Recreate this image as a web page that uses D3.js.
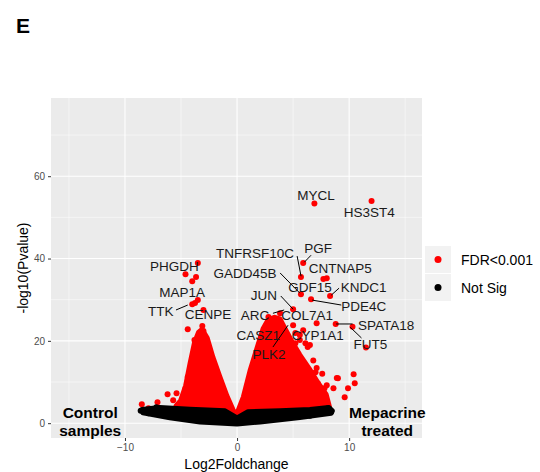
<!DOCTYPE html>
<html>
<head>
<meta charset="utf-8">
<script src="https://cdn.jsdelivr.net/npm/d3@7"></script>
<style>
  body { margin: 0; background: #fff; }
  text { font-family: "Liberation Sans", Arial, sans-serif; }
</style>
</head>
<body>
<div id="chart"></div>
<script>
// tick values
const xTicks = [-10, 0, 10];
const yTicks = [0, 20, 40, 60];

// dense cores of the significant points (outline)
const leftCore = [[-3.13, 22.6], [-2.7, 20.6], [-2.2, 16.0], [-1.6, 11.4], [-0.95, 6.6], [-0.4, 3.2],
  [-0.1, 1.8], [-1.5, 2.2], [-5.4, 4.2], [-5.0, 5.4], [-4.55, 9.0], [-4.15, 14.5], [-3.75, 19.6], [-3.4, 22.0]];
const rightCore = [[0.05, 2.4], [0.6, 6.3], [1.2, 12.7], [1.82, 18.2], [2.35, 22.8], [2.8, 25.0], [3.35, 25.6],
  [3.8, 25.2], [4.15, 23.4], [4.85, 19.8], [5.55, 16.6], [6.4, 13.2], [7.1, 10.1], [7.9, 7.0], [8.2, 3.9], [4, 3]];

// not significant band
const nsBand = [[-8.5, 3.3], [-6.9, 3.8], [-4.2, 3.4], [-1.07, 3.0], [0, 1.3], [0.98, 2.8], [3.84, 3.0],
  [6.5, 3.3], [8.2, 3.8], [8.5, 3.0], [8.4, 2.4], [5.6, 1.4], [2.05, 0.3], [0, -0.2], [-3.3, 0.3], [-6.0, 1.3], [-8.4, 2.5]];
const nsPoints = [[-8.6, 3.0], [-7.9, 2.4], [6.5, 1.8], [8.1, 3.6], [8.4, 2.8], [-7.2, 3.9]];

// significant points outside the cores
const sigPoints = [
  [6.9, 53.4], [12.0, 54.0], [5.9, 38.9], [5.7, 35.5], [7.7, 35.0], [8.0, 35.2], [5.7, 31.3], [8.3, 30.9],
  [6.6, 30.1], [5.0, 27.7], [2.8, 25.8], [3.84, 26.7], [7.1, 24.3], [8.8, 24.1], [10.3, 23.4], [11.5, 18.4],
  [5.0, 23.8], [5.9, 22.6], [5.6, 20.2], [6.5, 19.0], [5.2, 21.9], [5.6, 21.4], [6.1, 19.4], [6.3, 18.5],
  [5.2, 19.4], [7.1, 13.4], [7.0, 12.4], [8.0, 9.2], [9.0, 10.9], [8.9, 11.0], [10.4, 11.9], [10.5, 9.7],
  [9.6, 6.3], [9.9, 8.5], [8.6, 8.5], [7.8, 8.5], [7.2, 9.7], [8.0, 4.9], [6.8, 15.2], [7.6, 12.0],
  [-3.5, 38.9], [-4.6, 36.2], [-3.66, 35.5], [-4.0, 34.5], [-3.5, 29.9], [-3.75, 29.2], [-4.0, 28.9],
  [-3.0, 27.5], [-4.4, 22.8], [-3.1, 23.6], [-3.0, 22.4], [-3.8, 20.2], [-3.9, 16.0], [-4.0, 14.6],
  [-4.4, 11.2], [-4.2, 9.7], [-4.6, 8.5], [-5.4, 7.3], [-5.7, 5.6], [-6.2, 7.0], [-7.1, 5.1], [-7.9, 3.6], [-8.5, 4.6]];

// gene labels (label centre in data units)
const geneLabels = [
  ["MYCL", 7.05, 55.4], ["HS3ST4", 11.8, 51.3], ["PGF", 7.23, 42.5], ["TNFRSF10C", 1.6, 41.3],
  ["CNTNAP5", 9.2, 37.7], ["GADD45B", 0.71, 36.5], ["GDF15", 6.5, 33.0], ["KNDC1", 11.3, 33.0],
  ["JUN", 2.4, 31.1], ["PDE4C", 11.3, 28.4], ["ARC", 1.6, 26.2], ["COL7A1", 6.25, 26.2],
  ["CASZ1", 1.9, 21.4], ["CYP1A1", 7.2, 21.4], ["PLK2", 2.86, 16.8], ["SPATA18", 13.3, 23.8],
  ["FUT5", 11.9, 19.2], ["PHGDH", -5.6, 38.2], ["MAP1A", -4.9, 31.8], ["TTK", -6.8, 27.2], ["CENPE", -2.6, 26.5]];

// leader segments [x1, y1, x2, y2]
const leaders = [[5.36, 40.6, 5.71, 35.7], [6.6, 40.8, 6.0, 39.1], [3.84, 36.5, 5.6, 31.6], [9.1, 32.8, 8.4, 31.1],
  [6.7, 29.9, 9.3, 28.7], [3.9, 30.9, 5.0, 27.7], [3.2, 26.7, 4.2, 27.5], [4.55, 23.8, 3.2, 18.5],
  [8.84, 24.1, 10.3, 24.1], [10.1, 23.3, 11.1, 20.7], [-5.45, 27.5, -4.4, 28.7]];

const legendItems = [["FDR<0.001", "#ff0000"], ["Not Sig", "#000000"]];

const W = 540, H = 472;
const margin = {left: 51, right: 118, top: 98, bottom: 34};
const red = "#ff0000";

const svg = d3.select("#chart").append("svg").attr("width", W).attr("height", H);

const x = d3.scaleLinear().domain([-16.6, 16.5]).range([margin.left, W - margin.right]);
const y = d3.scaleLinear().domain([-3.6, 79]).range([H - margin.bottom, margin.top]);

// panel
svg.append("rect")
  .attr("x", x.range()[0]).attr("y", y.range()[1])
  .attr("width", x.range()[1] - x.range()[0]).attr("height", y.range()[0] - y.range()[1])
  .attr("fill", "#ebebeb");

const grid = svg.append("g");
[-15, -5, 5, 15].forEach(v => grid.append("line").attr("x1", x(v)).attr("x2", x(v))
  .attr("y1", y.range()[1]).attr("y2", y.range()[0]).attr("stroke", "#fff").attr("stroke-width", 0.5));
[10, 30, 50, 70].forEach(v => grid.append("line").attr("y1", y(v)).attr("y2", y(v))
  .attr("x1", x.range()[0]).attr("x2", x.range()[1]).attr("stroke", "#fff").attr("stroke-width", 0.5));
xTicks.forEach(v => grid.append("line").attr("x1", x(v)).attr("x2", x(v))
  .attr("y1", y.range()[1]).attr("y2", y.range()[0]).attr("stroke", "#fff").attr("stroke-width", 1.1));
yTicks.forEach(v => grid.append("line").attr("y1", y(v)).attr("y2", y(v))
  .attr("x1", x.range()[0]).attr("x2", x.range()[1]).attr("stroke", "#fff").attr("stroke-width", 1.1));

const line = d3.line().x(d => x(d[0])).y(d => y(d[1])).curve(d3.curveLinearClosed);

// significant
[leftCore, rightCore].forEach(c => svg.append("path").attr("d", line(c))
  .attr("fill", red).attr("stroke", red).attr("stroke-width", 6).attr("stroke-linejoin", "round"));
svg.append("g").selectAll("circle").data(sigPoints).join("circle")
  .attr("cx", d => x(d[0])).attr("cy", d => y(d[1])).attr("r", 3).attr("fill", red);

// not significant
svg.append("path").attr("d", line(nsBand))
  .attr("fill", "#000").attr("stroke", "#000").attr("stroke-width", 5).attr("stroke-linejoin", "round");
svg.append("g").selectAll("circle").data(nsPoints).join("circle")
  .attr("cx", d => x(d[0])).attr("cy", d => y(d[1])).attr("r", 3).attr("fill", "#000");

// leaders + labels
svg.append("g").selectAll("line").data(leaders).join("line")
  .attr("x1", d => x(d[0])).attr("y1", d => y(d[1])).attr("x2", d => x(d[2])).attr("y2", d => y(d[3]))
  .attr("stroke", "#000").attr("stroke-width", 1);
svg.append("g").selectAll("text").data(geneLabels).join("text")
  .attr("x", d => x(d[1])).attr("y", d => y(d[2]) + 5)
  .attr("text-anchor", "middle").attr("font-size", 13.5).attr("fill", "#1a1a1a")
  .text(d => d[0]);

// group notes
const note = (lines, xv) => {
  lines.forEach((t, i) => svg.append("text").attr("x", x(xv)).attr("y", 418 + i * 18)
    .attr("text-anchor", "middle").attr("font-size", 15.5).attr("font-weight", "bold").text(t));
};
note(["Control", "samples"], -13.1);
note(["Mepacrine", "treated"], 13.4);

// axes
const xAxis = svg.append("g").attr("transform", `translate(0,${y.range()[0]})`)
  .call(d3.axisBottom(x).tickValues(xTicks).tickSize(3).tickPadding(3));
const yAxis = svg.append("g").attr("transform", `translate(${x.range()[0]},0)`)
  .call(d3.axisLeft(y).tickValues(yTicks).tickSize(3).tickPadding(3));
[xAxis, yAxis].forEach(a => {
  a.select(".domain").remove();
  a.selectAll(".tick line").attr("stroke", "#333");
  a.selectAll(".tick text").attr("fill", "#4d4d4d").attr("font-size", 10)
    .attr("font-family", "Liberation Sans, Arial, sans-serif");
});

svg.append("text").attr("x", (x.range()[0] + x.range()[1]) / 2).attr("y", 469)
  .attr("text-anchor", "middle").attr("font-size", 14).text("Log2Foldchange");
svg.append("text").attr("transform", `translate(28,${(y.range()[0] + y.range()[1]) / 2}) rotate(-90)`)
  .attr("text-anchor", "middle").attr("font-size", 14).text("-log10(Pvalue)");

// legend
const lg = svg.append("g").attr("transform", "translate(425,246)");
legendItems.forEach((d, i) => {
  const g = lg.append("g").attr("transform", `translate(0,${i * 28})`);
  g.append("rect").attr("width", 26).attr("height", 27).attr("fill", "#f2f2f2");
  g.append("circle").attr("cx", 13).attr("cy", 13.5).attr("r", 3.5).attr("fill", d[1]);
  g.append("text").attr("x", 36).attr("y", 18.5).attr("font-size", 14).text(d[0]);
});

// panel letter
svg.append("text").attr("x", 16).attr("y", 33).attr("font-size", 21).attr("font-weight", "bold").text("E");
</script>
</body>
</html>
